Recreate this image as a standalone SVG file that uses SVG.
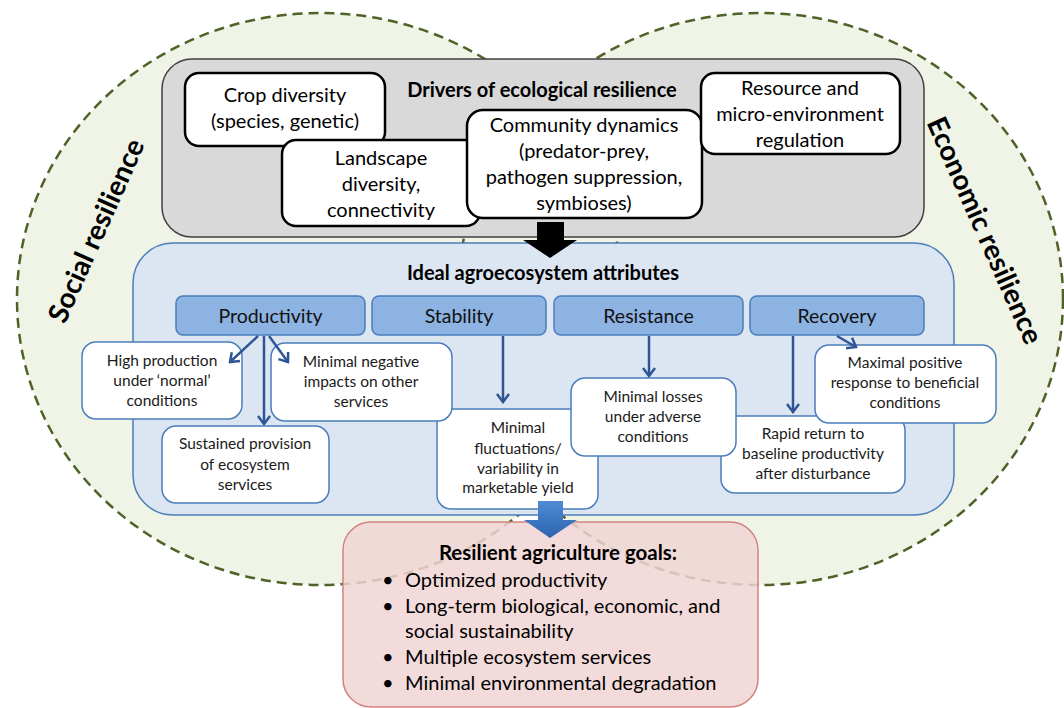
<svg xmlns="http://www.w3.org/2000/svg" width="1064" height="708" viewBox="0 0 1064 708">
<defs>
<style>
text{font-family:Lato,"Liberation Sans",sans-serif;}
.drv{fill:#fff;stroke:#000;stroke-width:2.5;}
.drvt{font-size:20px;fill:#000;text-anchor:middle;}
.hdr{fill:#8db3e2;stroke:#4a7ebb;stroke-width:1.5;}
.hdrt{font-size:19.5px;fill:#111;text-anchor:middle;}
.sub{fill:#fff;stroke:#4a7ebb;stroke-width:1.5;}
.subt{font-size:15.5px;fill:#1a1a1a;text-anchor:middle;}
.ttl{font-size:20px;font-weight:bold;fill:#000;text-anchor:middle;}
.side{font-size:28px;font-weight:bold;fill:#000;text-anchor:middle;dominant-baseline:central;}
.goal{font-size:20px;fill:#000;}
.conn line{stroke:#2f5597;stroke-width:2.5;marker-end:url(#ah);}
</style>
<marker id="ah" viewBox="-10 -8 12 16" refX="0" refY="0" markerWidth="12" markerHeight="16" markerUnits="userSpaceOnUse" orient="auto">
<path d="M-8,-6 L0,0 L-8,6" fill="none" stroke="#2f5597" stroke-width="2.5"/>
</marker>
<linearGradient id="bg" x1="0" y1="0" x2="0" y2="1">
<stop offset="0" stop-color="#4f8bd3"/>
<stop offset="1" stop-color="#2c63b0"/>
</linearGradient>
</defs>

<g id="resilience-spheres">
<ellipse cx="320" cy="299" rx="303" ry="286" fill="#eff4e6"/>
<ellipse cx="760" cy="299" rx="303" ry="286" fill="#eff4e6"/>
<ellipse cx="320" cy="299" rx="303" ry="286" fill="none" stroke="#4f6228" stroke-width="2.5" stroke-dasharray="10 6"/>
<ellipse cx="760" cy="299" rx="303" ry="286" fill="none" stroke="#4f6228" stroke-width="2.5" stroke-dasharray="10 6"/>
<text class="side" transform="translate(95,230) rotate(-66)">Social resilience</text>
<text class="side" transform="translate(986,230) rotate(66)">Economic resilience</text>
</g>

<g id="drivers">
<rect x="162" y="59" width="762" height="178" rx="30" fill="#d9d9d9" stroke="#404040" stroke-width="1.5"/>
<text class="ttl" x="542" y="97">Drivers of ecological resilience</text>
</g>

<g id="crop-diversity">
<rect class="drv" x="185" y="73" width="200" height="73" rx="14"/>
<text class="drvt" x="285" y="102">Crop diversity</text>
<text class="drvt" x="285" y="128">(species, genetic)</text>
</g>

<g id="landscape-diversity">
<rect class="drv" x="282" y="140" width="198" height="86" rx="14"/>
<text class="drvt" x="381" y="165">Landscape</text>
<text class="drvt" x="381" y="191">diversity,</text>
<text class="drvt" x="381" y="217">connectivity</text>
</g>

<g id="community-dynamics">
<rect class="drv" x="467" y="110" width="235" height="108" rx="16"/>
<text class="drvt" x="584" y="132">Community dynamics</text>
<text class="drvt" x="584" y="158">(predator-prey,</text>
<text class="drvt" x="584" y="184">pathogen suppression,</text>
<text class="drvt" x="584" y="210">symbioses)</text>
</g>

<g id="resource-regulation">
<rect class="drv" x="701" y="73" width="199" height="81" rx="14"/>
<text class="drvt" x="800" y="95">Resource and</text>
<text class="drvt" x="800" y="121">micro-environment</text>
<text class="drvt" x="800" y="147">regulation</text>
</g>

<g id="attributes">
<rect x="133" y="243" width="821" height="272" rx="40" fill="#dce6f2" stroke="#4a7ebb" stroke-width="1.5"/>
<text class="ttl" x="543" y="280">Ideal agroecosystem attributes</text>
</g>

<g id="black-arrow">
<polygon points="537,222 564,222 564,240 577,240 550,258 523,240 537,240" fill="#000"/>
</g>

<g id="productivity">
<rect class="hdr" x="176" y="296" width="189" height="39" rx="7"/>
<text class="hdrt" x="270.5" y="323">Productivity</text>
</g>
<g id="stability">
<rect class="hdr" x="372" y="296" width="174" height="39" rx="7"/>
<text class="hdrt" x="459" y="323">Stability</text>
</g>
<g id="resistance">
<rect class="hdr" x="554" y="296" width="189" height="39" rx="7"/>
<text class="hdrt" x="648.5" y="323">Resistance</text>
</g>
<g id="recovery">
<rect class="hdr" x="750" y="296" width="174" height="39" rx="7"/>
<text class="hdrt" x="837" y="323">Recovery</text>
</g>

<g id="minimal-fluctuations">
<rect class="sub" x="437" y="409" width="161" height="100" rx="14"/>
<text class="subt" x="518" y="433">Minimal</text>
<text class="subt" x="518" y="454">fluctuations/</text>
<text class="subt" x="518" y="474">variability in</text>
<text class="subt" x="518" y="493">marketable yield</text>
</g>
<g id="minimal-negative">
<rect class="sub" x="271" y="343" width="181" height="78" rx="14"/>
<text class="subt" x="361" y="367">Minimal negative</text>
<text class="subt" x="361" y="387">impacts on other</text>
<text class="subt" x="361" y="407">services</text>
</g>
<g id="rapid-return">
<rect class="sub" x="721" y="416" width="184" height="77" rx="14"/>
<text class="subt" x="813" y="439">Rapid return to</text>
<text class="subt" x="813" y="459">baseline productivity</text>
<text class="subt" x="813" y="479">after disturbance</text>
</g>
<g id="minimal-losses">
<rect class="sub" x="571" y="378" width="165" height="78" rx="14"/>
<text class="subt" x="653" y="402">Minimal losses</text>
<text class="subt" x="653" y="422">under adverse</text>
<text class="subt" x="653" y="442">conditions</text>
</g>
<g id="maximal-positive">
<rect class="sub" x="815" y="345" width="181" height="78" rx="14"/>
<text class="subt" x="905" y="368">Maximal positive</text>
<text class="subt" x="905" y="388">response to beneficial</text>
<text class="subt" x="905" y="408">conditions</text>
</g>
<g id="high-production">
<rect class="sub" x="82" y="342" width="160" height="77" rx="14"/>
<text class="subt" x="162" y="366">High production</text>
<text class="subt" x="162" y="386">under ‘normal’</text>
<text class="subt" x="162" y="406">conditions</text>
</g>
<g id="sustained-provision">
<rect class="sub" x="162" y="426" width="167" height="77" rx="14"/>
<text class="subt" x="245" y="449">Sustained provision</text>
<text class="subt" x="245" y="470">of ecosystem</text>
<text class="subt" x="245" y="490">services</text>
</g>

<g id="connectors" class="conn">
<line x1="258" y1="336" x2="230" y2="362"/>
<line x1="264" y1="336" x2="264" y2="424"/>
<line x1="269" y1="336" x2="288" y2="362"/>
<line x1="503" y1="336" x2="503" y2="402"/>
<line x1="649" y1="336" x2="649" y2="376"/>
<line x1="793" y1="336" x2="793" y2="412"/>
<line x1="837" y1="336" x2="856" y2="347"/>
</g>

<g id="goals">
<rect x="343" y="522" width="415" height="185" rx="28" fill="#f0d5d4" fill-opacity="0.85" stroke="#d3837f" stroke-width="1.5"/>
<text x="558" y="560" style="font-size:20.5px;font-weight:bold;text-anchor:middle;fill:#000">Resilient agriculture goals:</text>
<text class="goal" x="382" y="587">•</text>
<text class="goal" x="405" y="587">Optimized productivity</text>
<text class="goal" x="382" y="613">•</text>
<text class="goal" x="405" y="613">Long-term biological, economic, and</text>
<text class="goal" x="405" y="638">social sustainability</text>
<text class="goal" x="382" y="664">•</text>
<text class="goal" x="405" y="664">Multiple ecosystem services</text>
<text class="goal" x="382" y="690">•</text>
<text class="goal" x="405" y="690">Minimal environmental degradation</text>
</g>

<g id="blue-arrow">
<polygon points="538,501 563,501 563,520 577,520 550,538 524,520 538,520" fill="url(#bg)"/>
</g>
</svg>
